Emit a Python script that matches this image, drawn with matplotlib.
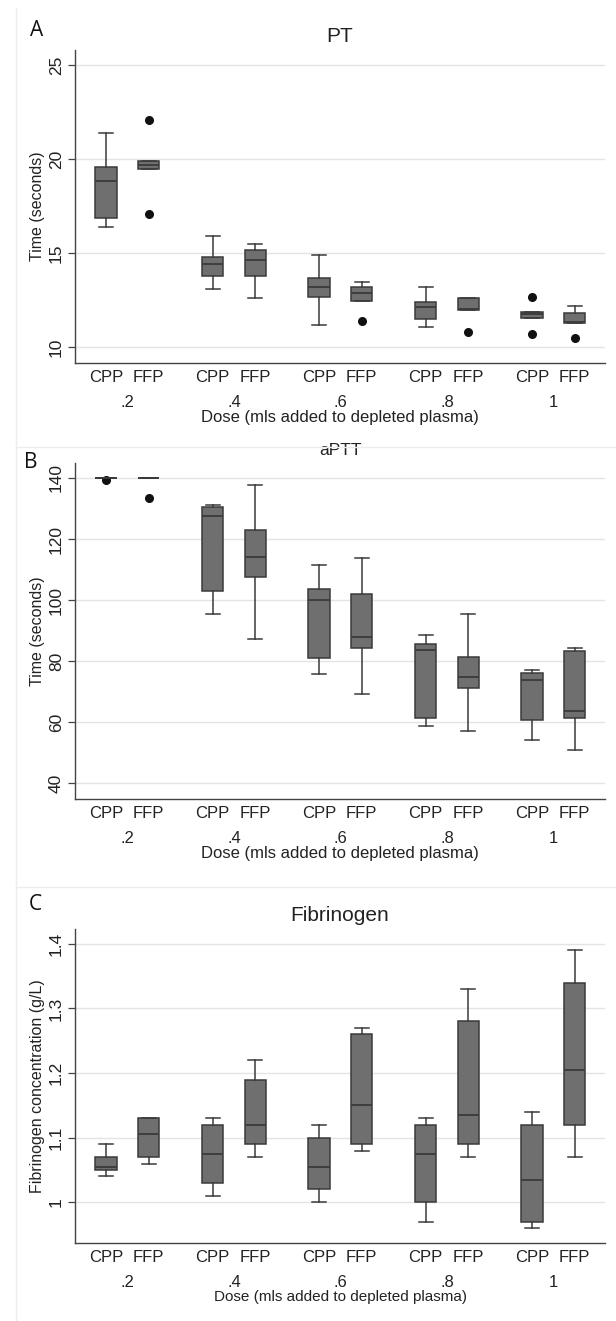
import matplotlib
matplotlib.use("Agg")
import matplotlib.pyplot as plt
from matplotlib.lines import Line2D

plt.rcParams['font.family'] = ['Liberation Sans', 'DejaVu Sans']

doses = ['.2', '.4', '.6', '.8', '1']
products = ['CPP', 'FFP']

# box stats per panel, order: CPP .2, FFP .2, CPP .4, FFP .4, ... ; (whislo, q1, med, q3, whishi)
pt_stats = [
    (16.4, 16.9, 18.86, 19.6, 21.4), (19.48, 19.48, 19.67, 19.9, 19.9),
    (13.1, 13.8, 14.42, 14.8, 15.9), (12.6, 13.8, 14.65, 15.2, 15.5),
    (11.2, 12.7, 13.2, 13.7, 14.9), (12.49, 12.49, 12.9, 13.2, 13.5),
    (11.1, 11.5, 12.12, 12.4, 13.2), (12.0, 12.0, 12.03, 12.6, 12.6),
    (11.58, 11.58, 11.76, 11.9, 11.9), (11.32, 11.32, 11.37, 11.8, 12.2),
]
pt_fliers = [[], [22.1, 17.1], [], [], [], [11.4], [], [10.8], [12.7, 10.7], [10.5]]

aptt_stats = [
    (140, 140, 140, 140, 140), (140, 140, 140, 140, 140),
    (95.5, 103.0, 127.4, 130.5, 131.3), (87.3, 107.7, 114.2, 123.1, 137.8),
    (75.9, 81.1, 100.2, 103.6, 111.5), (69.3, 84.3, 87.9, 101.9, 113.7),
    (58.9, 61.3, 83.6, 85.6, 88.7), (57.3, 71.4, 74.7, 81.5, 95.5),
    (54.2, 60.6, 73.7, 76.0, 77.2), (50.9, 61.5, 63.8, 83.5, 84.3),
]
aptt_fliers = [[139.2], [133.5], [], [], [], [], [], [], [], []]

fib_stats = [
    (1.04, 1.05, 1.055, 1.07, 1.09), (1.06, 1.07, 1.105, 1.13, 1.13),
    (1.01, 1.03, 1.075, 1.12, 1.13), (1.07, 1.09, 1.12, 1.19, 1.22),
    (1.00, 1.02, 1.055, 1.10, 1.12), (1.08, 1.09, 1.15, 1.26, 1.27),
    (0.97, 1.00, 1.075, 1.12, 1.13), (1.07, 1.09, 1.135, 1.28, 1.33),
    (0.96, 0.97, 1.035, 1.12, 1.14), (1.07, 1.12, 1.205, 1.34, 1.39),
]
fib_fliers = [[] for _ in range(10)]

panels = [
    ('A', 'PT', 'Time (seconds)', pt_stats, pt_fliers, (9.17, 25.8), [10, 15, 20, 25], ['10', '15', '20', '25']),
    ('B', 'aPTT', 'Time (seconds)', aptt_stats, aptt_fliers, (34.9, 144.9), [40, 60, 80, 100, 120, 140],
     ['40', '60', '80', '100', '120', '140']),
    ('C', 'Fibrinogen', 'Fibrinogen concentration (g/L)', fib_stats, fib_fliers, (0.937, 1.423),
     [1.0, 1.1, 1.2, 1.3, 1.4], ['1', '1.1', '1.2', '1.3', '1.4']),
]

W, H = 616, 1321
fig = plt.figure(figsize=(W / 100, H / 100), dpi=100)

# axes extents in pixels: (top, bottom)
ax_px = [(50, 363), (463, 799), (929, 1243)]
left_px, right_px = 75, 605
letter_pos = [(37, 30), (31, 462), (35, 905)]
title_size = [15, 12.5, 15]
label_size = [12, 12, 11]

positions = []
for i in range(len(doses)):
    positions += [i * 2.5, i * 2.5 + 1]
centers = [i * 2.5 + 0.5 for i in range(len(doses))]

edge = '#3a3a3a'
fill = '#6f6f6f'

for k, (letter, title, ylab, stats, fliers, ylim, yt, ytl) in enumerate(panels):
    top, bot = ax_px[k]
    ax = fig.add_axes([left_px / W, 1 - bot / H, (right_px - left_px) / W, (bot - top) / H])
    bx = []
    for s, f in zip(stats, fliers):
        bx.append(dict(whislo=s[0], q1=s[1], med=s[2], q3=s[3], whishi=s[4], fliers=f))
    ax.bxp(bx, positions=positions, widths=0.5, patch_artist=True, showcaps=True,
           boxprops=dict(facecolor=fill, edgecolor=edge, linewidth=1.1),
           medianprops=dict(color=edge, linewidth=1.3),
           whiskerprops=dict(color=edge, linewidth=1.1),
           capprops=dict(color=edge, linewidth=1.1),
           flierprops=dict(marker='o', markerfacecolor='#111111', markeredgecolor='#111111', markersize=5.5),
           capwidths=0.33)
    ax.set_xlim(-0.73, 11.71)
    ax.set_ylim(*ylim)
    ax.set_yticks(yt)
    ax.set_yticklabels(ytl, rotation=90, va='center', fontsize=12.5, color='#222222')
    ax.yaxis.grid(True, color='#e4e4e4', linewidth=1)
    ax.set_axisbelow(True)
    ax.tick_params(axis='y', length=5, width=0.9, color='#444444', pad=3)

    ax.set_xticks(positions)
    ax.set_xticklabels(products * len(doses), fontsize=12, color='#222222')
    ax.set_xticks(centers, minor=True)
    ax.set_xticklabels(doses, minor=True, fontsize=12, color='#222222')
    ax.tick_params(axis='x', which='major', length=0, pad=5)
    ax.tick_params(axis='x', which='minor', length=0, pad=23)
    ax.set_xlabel('Dose (mls added to depleted plasma)', fontsize=label_size[k], labelpad=0, color='#222222')
    ax.set_ylabel(ylab, fontsize=11.5, labelpad=3, color='#222222')
    ax.set_title(title, fontsize=title_size[k], pad=6, color='#222222')

    for side in ['top', 'right']:
        ax.spines[side].set_visible(False)
    for side in ['left', 'bottom']:
        ax.spines[side].set_color('#444444')
        ax.spines[side].set_linewidth(1.0)

    lx, ly = letter_pos[k]
    fig.text(lx / W, 1 - ly / H, letter, fontsize=15, ha='center', va='center', color='#111111',
             family=['Open Sans', 'DejaVu Sans'])

# faint panel separators
for y in [447, 887]:
    fig.add_artist(Line2D([16 / W, 1], [1 - y / H, 1 - y / H], color='#ececec', linewidth=1))
fig.add_artist(Line2D([16 / W, 16 / W], [0, 1 - 8 / H], color='#ececec', linewidth=1))

fig.savefig('out.png', dpi=100)
